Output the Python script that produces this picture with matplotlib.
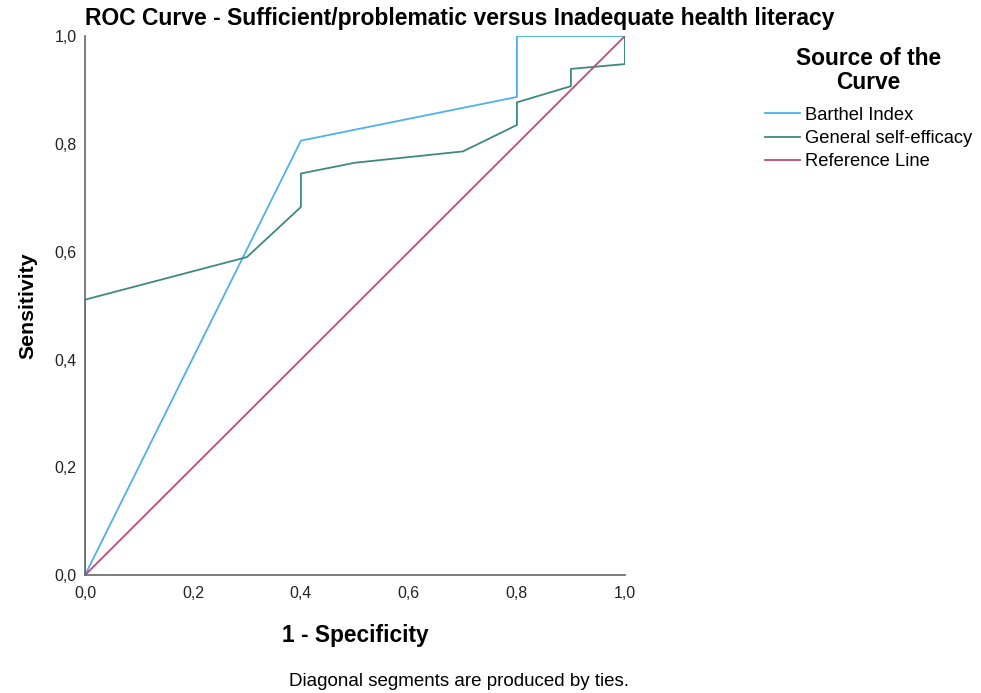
import numpy as np
import matplotlib.pyplot as plt

plt.rcParams['font.family'] = ['Liberation Sans', 'DejaVu Sans']

# ROC coordinates
barthel_x = [0.0, 0.4, 0.8, 0.8, 1.0]
barthel_y = [0.0, 0.806, 0.887, 1.0, 1.0]

gse_x = [0.0, 0.0, 0.3, 0.4, 0.4, 0.5, 0.7, 0.8, 0.8, 0.9, 0.9, 1.0, 1.0]
gse_y = [0.0, 0.511, 0.59, 0.683, 0.745, 0.765, 0.786, 0.835, 0.877, 0.907, 0.939, 0.948, 1.0]

ref_x = [0.0, 1.0]
ref_y = [0.0, 1.0]

ticks = [0.0, 0.2, 0.4, 0.6, 0.8, 1.0]
tick_labels = ['0,0', '0,2', '0,4', '0,6', '0,8', '1,0']

fig = plt.figure(figsize=(9.81, 6.93), dpi=100)
ax = fig.add_axes([0.0866, 0.170, 0.5504, 0.778])

ax.plot(barthel_x, barthel_y, color='#4CB1EE', lw=1.3, label='Barthel Index')
ax.plot(gse_x, gse_y, color='#3D8A80', lw=1.3, label='General self-efficacy')
ax.plot(ref_x, ref_y, color='#C4487A', lw=1.3, label='Reference Line')

ax.set_xlim(0, 1)
ax.set_ylim(0, 1)
ax.set_xticks(ticks)
ax.set_xticklabels(tick_labels)
ax.set_yticks(ticks)
ax.set_yticklabels(tick_labels)
ax.tick_params(length=0, labelsize=11.5, colors='#222222')
ax.tick_params(axis='x', pad=8)
ax.tick_params(axis='y', pad=6)
for s in ['top', 'right']:
    ax.spines[s].set_visible(False)
for s in ['left', 'bottom']:
    ax.spines[s].set_color('#666666')
    ax.spines[s].set_linewidth(1.2)

ax.set_xlabel('1 - Specificity', fontsize=16.4, fontweight='bold', labelpad=16)
ax.set_ylabel('Sensitivity', fontsize=15.3, fontweight='bold', labelpad=12)

fig.text(0.0866, 0.973, 'ROC Curve - Sufficient/problematic versus Inadequate health literacy',
         fontsize=16.5, fontweight='bold', ha='left', va='center')
fig.text(0.468, 0.017, 'Diagonal segments are produced by ties.',
         fontsize=13.5, ha='center', va='center')

leg = ax.legend(loc='upper left', bbox_to_anchor=(1.259, 0.979), frameon=False,
                title='Source of the\nCurve', fontsize=13.2, handlelength=1.9,
                handletextpad=0.28, labelspacing=0.34, borderaxespad=0, borderpad=0)
leg.get_title().set_fontweight('bold')
leg.get_title().set_fontsize(16.4)
leg.get_title().set_multialignment('center')
leg.get_title().set_linespacing(1.05)
leg._legend_box.align = 'center'
leg._legend_box.sep = 9

fig.savefig('out.png', dpi=100)
